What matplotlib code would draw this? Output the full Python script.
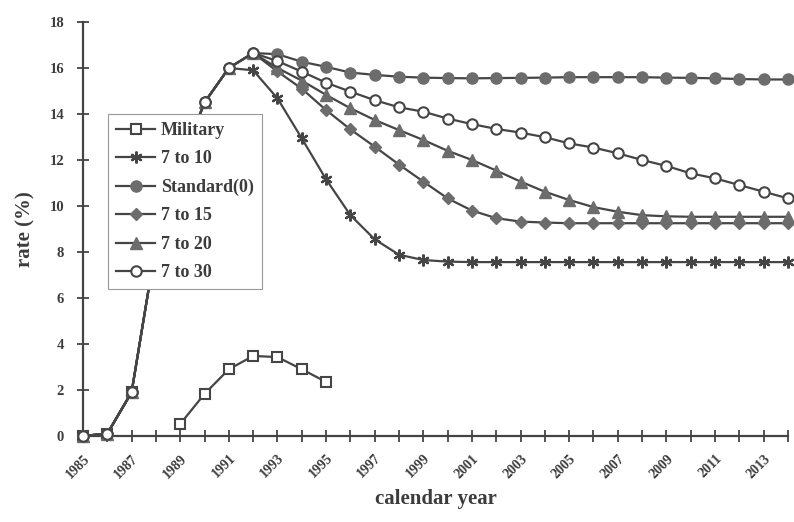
import numpy as np
import matplotlib
matplotlib.use("Agg")
import matplotlib.pyplot as plt
import matplotlib.transforms as mtransforms

years = list(range(1985, 2015))
early = [0.0, 0.1, 1.9, 8.3, 11.8, 14.5, 16.0]  # 1985-1991 common part

standard = early + [16.65, 16.6, 16.27, 16.05, 15.8, 15.7, 15.62, 15.58, 15.56, 15.55,
                    15.56, 15.57, 15.58, 15.6, 15.6, 15.6, 15.6, 15.58, 15.57, 15.55,
                    15.52, 15.5, 15.5]
to30 = early + [16.65, 16.3, 15.84, 15.36, 14.97, 14.6, 14.29, 14.1, 13.8, 13.56,
                13.35, 13.19, 12.99, 12.72, 12.54, 12.29, 12.0, 11.74, 11.42, 11.2,
                10.91, 10.62, 10.33]
to20 = early + [16.65, 16.0, 15.45, 14.83, 14.25, 13.74, 13.3, 12.87, 12.4, 12.0,
                11.54, 11.06, 10.62, 10.26, 9.95, 9.75, 9.6, 9.55, 9.53, 9.53,
                9.53, 9.53, 9.53]
to15 = early + [16.65, 15.85, 15.1, 14.17, 13.33, 12.58, 11.8, 11.06, 10.33, 9.8,
                9.47, 9.32, 9.28, 9.25, 9.25, 9.25, 9.25, 9.25, 9.25, 9.25,
                9.25, 9.25, 9.25]
to10 = early + [15.9, 14.68, 12.94, 11.16, 9.6, 8.55, 7.88, 7.65, 7.58, 7.56,
                7.56, 7.56, 7.56, 7.56, 7.56, 7.56, 7.56, 7.56, 7.56, 7.56,
                7.56, 7.56, 7.56]
mil_years = list(range(1985, 1996))
military = [0.0, 0.1, 1.9, np.nan, 0.52, 1.83, 2.9, 3.48, 3.43, 2.9, 2.35]

x_tick_labels = [str(y) if y % 2 == 1 else "" for y in years]
y_ticks = list(range(0, 19, 2))

plt.rcParams['font.family'] = ['Liberation Serif', 'DejaVu Serif']

fig = plt.figure(figsize=(7.94, 5.22), dpi=100)
ax = fig.add_axes([0.1045, 0.1648, 0.8879, 0.7931])

line_c = '#454545'
fill_c = '#6c6c6c'
txt_c = '#3c3c3c'
lw = 1.6
ms = 7.5

ax.plot(mil_years, military, color=line_c, lw=lw, marker='s', ms=ms,
        mfc='white', mec=line_c, mew=1.5, label='Military', clip_on=False, zorder=3)
ax.plot(years, to10, color=line_c, lw=lw, marker=(6, 2, 0), ms=ms + 1,
        mec=line_c, mew=1.6, label='7 to 10', clip_on=False, zorder=3)
ax.plot(years, standard, color=line_c, lw=lw, marker='o', ms=ms + 0.5,
        mfc=fill_c, mec=fill_c, label='Standard(0)', clip_on=False, zorder=3)
ax.plot(years, to15, color=line_c, lw=lw, marker='D', ms=ms - 1,
        mfc=fill_c, mec=fill_c, label='7 to 15', clip_on=False, zorder=3)
ax.plot(years, to20, color=line_c, lw=lw, marker='^', ms=ms + 1,
        mfc=fill_c, mec=fill_c, label='7 to 20', clip_on=False, zorder=3)
ax.plot(years, to30, color=line_c, lw=lw, marker='o', ms=ms,
        mfc='white', mec=line_c, mew=1.5, label='7 to 30', clip_on=False, zorder=4)

ax.set_xlim(1985, 2014)
ax.set_ylim(0, 18)
ax.set_xticks(years)
ax.set_xticklabels(x_tick_labels, rotation=45, ha='right', rotation_mode='anchor',
                   fontsize=10, fontweight='bold', color=txt_c)
offset = mtransforms.ScaledTranslation(-7 / 100, 0, fig.dpi_scale_trans)
for lab in ax.get_xticklabels():
    lab.set_transform(lab.get_transform() + offset)
ax.set_yticks(y_ticks)
ax.set_yticklabels([str(v) for v in y_ticks], fontsize=10.5, fontweight='bold', color=txt_c)
ax.tick_params(axis='both', direction='inout', length=9, width=1.3, color='#444444')
ax.tick_params(axis='x', pad=7)
ax.tick_params(axis='y', pad=9)

for s in ['top', 'right']:
    ax.spines[s].set_visible(False)
for s in ['left', 'bottom']:
    ax.spines[s].set_color('#444444')
    ax.spines[s].set_linewidth(1.6)

ax.set_ylabel('rate (%)', fontsize=15, fontweight='bold', color=txt_c, labelpad=10)
ax.set_xlabel('calendar year', fontsize=15, fontweight='bold', color=txt_c, labelpad=6)

leg = ax.legend(loc='upper left', bbox_to_anchor=(0.035, 0.778), borderaxespad=0,
                prop={'family': 'Liberation Serif', 'weight': 'bold', 'size': 13},
                fancybox=False, framealpha=1, edgecolor='#999999',
                handlelength=2.2, handletextpad=0.3, labelspacing=0.63,
                borderpad=0.45)
leg.get_frame().set_linewidth(0.8)
for t in leg.get_texts():
    t.set_color(txt_c)
leg.set_zorder(10)

fig.savefig('out.png', dpi=100)
